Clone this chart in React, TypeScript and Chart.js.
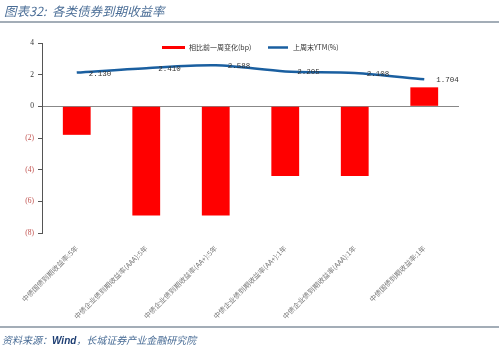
import React, { useEffect, useRef } from "react";
import { Chart, registerables } from "chart.js";

Chart.register(...registerables);

const categories = [
  "中债国债到期收益率:5年",
  "中债企业债到期收益率(AAA):5年",
  "中债企业债到期收益率(AA+):5年",
  "中债企业债到期收益率(AA+):1年",
  "中债企业债到期收益率(AAA):1年",
  "中债国债到期收益率:1年",
];
const changeBp = [-1.8, -6.9, -6.9, -4.4, -4.4, 1.2];
const ytm = [2.13, 2.41, 2.588, 2.205, 2.108, 1.704];
const ytmLabels = ["2.130", "2.410", "2.588", "2.205", "2.108", "1.704"];
const barLabel = "相比前一周变化(bp)";
const lineLabel = "上周末YTM(%)";
const titleText = "图表32:  各类债券到期收益率";

const pointLabels = {
  id: "pointLabels",
  afterDatasetsDraw(chart: any) {
    const meta = chart.getDatasetMeta(1);
    const ctx = chart.ctx;
    ctx.save();
    ctx.font = "7.5px 'Liberation Mono', monospace";
    ctx.fillStyle = "#333";
    ctx.textBaseline = "middle";
    ctx.textAlign = "left";
    meta.data.forEach((p: any, i: number) => {
      ctx.fillText(ytmLabels[i], p.x + 12, p.y + 1);
    });
    ctx.restore();
  },
};

const customLegend = {
  id: "customLegend",
  afterDraw(chart: any) {
    const ctx = chart.ctx;
    ctx.save();
    ctx.fillStyle = "#ff0000";
    ctx.fillRect(162, 46, 23, 3);
    ctx.font = "7px 'Noto Sans CJK SC', sans-serif";
    ctx.fillStyle = "#333";
    ctx.textBaseline = "middle";
    ctx.fillText(barLabel, 189, 47.5);
    ctx.strokeStyle = "#1a5fa0";
    ctx.lineWidth = 2.5;
    ctx.beginPath();
    ctx.moveTo(268, 47.5);
    ctx.lineTo(288, 47.5);
    ctx.stroke();
    ctx.fillText(lineLabel, 293, 47.5);
    ctx.restore();
  },
};

export default function App() {
  const ref = useRef<HTMLCanvasElement>(null);
  useEffect(() => {
    if (!ref.current) return;
    const chart = new Chart(ref.current, {
      type: "bar",
      data: {
        labels: categories,
        datasets: [
          {
            type: "bar",
            label: barLabel,
            data: changeBp,
            backgroundColor: "#ff0000",
            barPercentage: 0.4,
            categoryPercentage: 1,
            order: 2,
          },
          {
            type: "line",
            label: lineLabel,
            data: ytm,
            borderColor: "#1a5fa0",
            borderWidth: 2.5,
            pointRadius: 0,
            tension: 0.3,
            order: 1,
          } as any,
        ],
      },
      options: {
        responsive: false,
        animation: false,
        layout: { padding: { top: 43, right: 40, left: 0, bottom: 0 } },
        plugins: {
          legend: { display: false },
          tooltip: { enabled: false },
        },
        scales: {
          x: {
            grid: { display: false },
            border: { display: false },
            ticks: {
              maxRotation: 45,
              minRotation: 45,
              padding: 3,
              color: "#777",
              font: { size: 7, family: "'Noto Sans CJK SC', sans-serif" },
            },
            afterFit(scale: any) {
              scale.height = 123;
            },
          },
          y: {
            min: -8,
            max: 4,
            border: { display: true, color: "#555", width: 1 },
            grid: {
              drawTicks: true,
              tickLength: 4,
              tickColor: "#555",
              color: (c: any) => (c.tick && c.tick.value === 0 ? "#888" : "rgba(0,0,0,0)"),
              lineWidth: 1,
            },
            ticks: {
              stepSize: 2,
              padding: 4,
              callback: (v: any) => (v < 0 ? `(${-v})` : `${v}`),
              color: (c: any) => (c.tick && c.tick.value < 0 ? "#c0504d" : "#333"),
              font: { size: 7.5, family: "'Liberation Serif', serif" },
            },
            afterFit(scale: any) {
              scale.width = 42;
            },
          },
        },
      },
      plugins: [pointLabels, customLegend],
    });
    return () => chart.destroy();
  }, []);

  return (
    <div style={{ position: "fixed", left: 0, top: 0, width: 499, height: 356, background: "#fff", overflow: "hidden" }}>
      <canvas ref={ref} width={499} height={356} style={{ position: "absolute", left: 0, top: 0 }} />
      <div
        style={{
          position: "absolute",
          left: 4,
          top: 3,
          fontFamily: "'Noto Sans CJK SC', sans-serif",
          fontStyle: "italic",
          fontSize: 12.5,
          lineHeight: "16px",
          color: "#4a6d96",
          whiteSpace: "pre",
        }}
      >
        {titleText}
      </div>
      <div style={{ position: "absolute", left: 0, top: 21, width: 499, height: 2, background: "#a3adb7" }} />
      <div style={{ position: "absolute", left: 0, top: 326, width: 499, height: 2, background: "#a3adb7" }} />
      <div
        style={{
          position: "absolute",
          left: 2,
          top: 333,
          fontFamily: "'Noto Sans CJK SC', sans-serif",
          fontStyle: "italic",
          fontSize: 10,
          lineHeight: "14px",
          color: "#4a6d96",
          whiteSpace: "pre",
        }}
      >
        资料来源：<span style={{ fontFamily: "Arial, 'Liberation Sans', sans-serif", fontWeight: "bold", color: "#1f3f73" }}>Wind</span>，长城证券产业金融研究院
      </div>
    </div>
  );
}
